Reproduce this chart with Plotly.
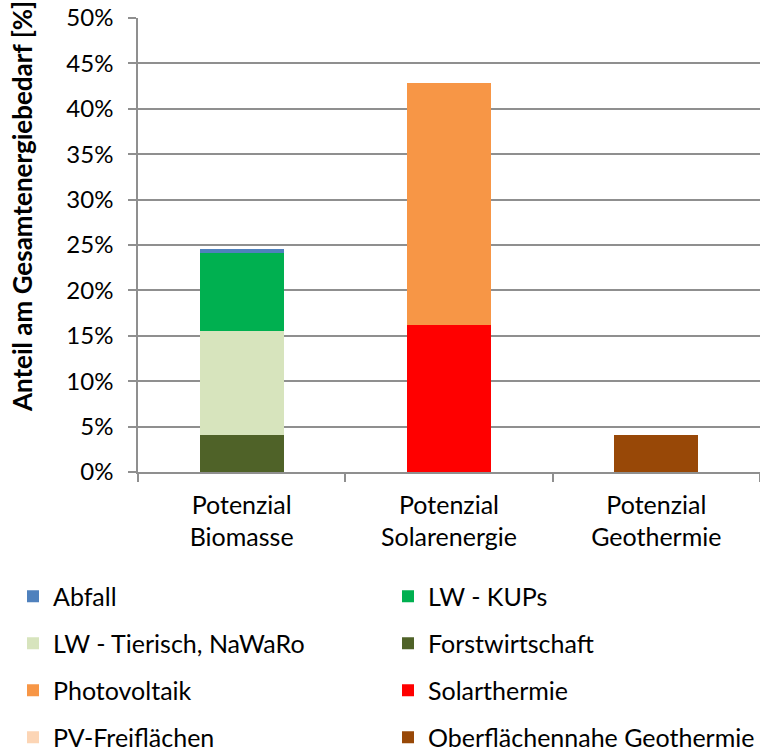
import plotly.graph_objects as go

categories = ["Potenzial<br>Biomasse", "Potenzial<br>Solarenergie", "Potenzial<br>Geothermie"]

# values in % of total energy demand (stack order bottom -> top)
forstwirtschaft = [4.07, None, None]
lw_tierisch = [11.49, None, None]
lw_kups = [8.52, None, None]
abfall = [0.48, None, None]
solarthermie = [None, 16.19, None]
photovoltaik = [None, 26.65, None]
pv_freiflaechen = [None, 0.0, None]
geothermie = [None, None, 4.07]

series = [
    ("Forstwirtschaft", forstwirtschaft, "#4F6228", "legend2", 2),
    ("LW - Tierisch, NaWaRo", lw_tierisch, "#D7E4BD", "legend", 2),
    ("LW - KUPs", lw_kups, "#00B050", "legend2", 1),
    ("Abfall", abfall, "#4F81BD", "legend", 1),
    ("Solarthermie", solarthermie, "#FF0000", "legend2", 3),
    ("Photovoltaik", photovoltaik, "#F79646", "legend", 3),
    ("PV-Freiflächen", pv_freiflaechen, "#FCD5B5", "legend", 4),
    ("Oberflächennahe Geothermie", geothermie, "#984807", "legend2", 4),
]

FONT = "Lato"
fig = go.Figure()
for name, vals, color, lg, rank in series:
    fig.add_trace(go.Bar(
        x=categories, y=vals, name=name,
        marker=dict(color=color, line=dict(width=0)),
        legend=lg, legendgroup=name, legendrank=rank,
        hoverinfo="skip",
    ))

grid = "#8f8f8f"
PL, PR = 138, 760
PT, PB = 18, 472
W = PR - PL
H = PB - PT

fig.update_layout(
    width=760, height=754,
    margin=dict(l=PL, r=760 - PR, t=PT, b=754 - PB, autoexpand=False),
    barmode="stack", bargap=0.595,
    plot_bgcolor="white", paper_bgcolor="white",
    font=dict(family=FONT, color="#000000", size=25),
    showlegend=True,
    legend=dict(
        x=(13 - PL) / W, xanchor="left", y=(PB - 573.5) / H, yanchor="top",
        orientation="v", tracegroupgap=11.5, font=dict(size=25, family=FONT),
        bgcolor="rgba(0,0,0,0)", itemclick=False,
    ),
    legend2=dict(
        x=(388 - PL) / W, xanchor="left", y=(PB - 573.5) / H, yanchor="top",
        orientation="v", tracegroupgap=11.5, font=dict(size=25, family=FONT),
        bgcolor="rgba(0,0,0,0)", itemclick=False,
    ),
    xaxis=dict(
        automargin=False,
        showgrid=False, showline=True, linecolor=grid, linewidth=1.5,
        ticks="outside", tickson="boundaries", ticklen=8, tickcolor=grid, tickwidth=1.5,
        ticklabelstandoff=10,
        tickfont=dict(size=25, family=FONT), fixedrange=True,
    ),
    yaxis=dict(
        automargin=False,
        range=[0, 50], dtick=5, ticksuffix="%",
        showgrid=True, gridcolor=grid, gridwidth=1.5,
        showline=True, linecolor=grid, linewidth=1.5,
        ticks="outside", ticklen=8, tickcolor=grid, tickwidth=1.5,
        ticklabelstandoff=10,
        tickfont=dict(size=24, family=FONT), zeroline=False, fixedrange=True,
    ),
    annotations=[dict(
        text="<b>Anteil am Gesamtenergiebedarf [%]</b>",
        xref="paper", yref="paper",
        x=(22 - PL) / W, y=(PB - 207) / H,
        xanchor="center", yanchor="middle", textangle=-90, showarrow=False,
        font=dict(size=26, family=FONT, color="#000000"),
    )],
)

fig.write_html("out.html", config={"displayModeBar": False},
               post_script="document.body.style.margin='0';")
